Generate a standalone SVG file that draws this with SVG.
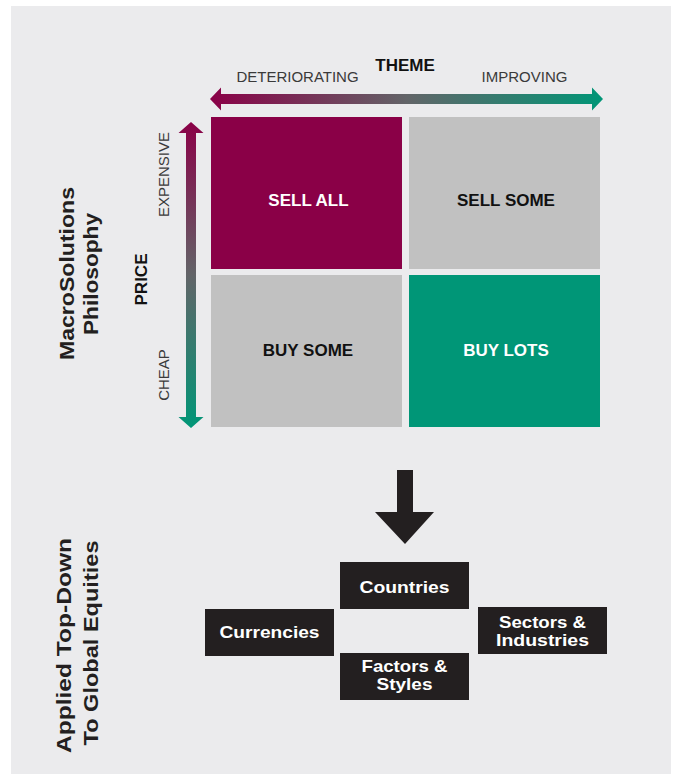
<svg xmlns="http://www.w3.org/2000/svg" width="676" height="774" viewBox="0 0 676 774">
  <defs>
    <linearGradient id="gH" x1="210" y1="0" x2="603" y2="0" gradientUnits="userSpaceOnUse">
      <stop offset="0" stop-color="#8a0047"/>
      <stop offset="0.5" stop-color="#626468"/>
      <stop offset="1" stop-color="#009677"/>
    </linearGradient>
    <linearGradient id="gV" x1="0" y1="122" x2="0" y2="428" gradientUnits="userSpaceOnUse">
      <stop offset="0" stop-color="#8a0047"/>
      <stop offset="0.5" stop-color="#626468"/>
      <stop offset="1" stop-color="#009677"/>
    </linearGradient>
    <style>
      .q { font-family: "Liberation Sans", Arial, sans-serif; font-weight: 700; font-size: 17px; text-anchor: middle; }
      .w { fill: #ffffff; }
      .k { fill: #111111; }
      .ax { font-family: "Liberation Sans", Arial, sans-serif; font-size: 15px; fill: #3a3a3a; text-anchor: middle; }
      .hd { font-family: "Liberation Sans", Arial, sans-serif; font-weight: 700; font-size: 17px; fill: #111111; text-anchor: middle; }
      .side { font-family: "Liberation Sans", Arial, sans-serif; font-weight: 700; font-size: 21px; fill: #231f20; text-anchor: middle; }
      .box { fill: #231f20; }
      .bt { font-family: "Liberation Sans", Arial, sans-serif; font-weight: 700; font-size: 17px; fill: #ffffff; text-anchor: middle; }
    </style>
  </defs>

  <rect x="11" y="6" width="660" height="768" fill="#ebebed"/>

  <!-- titles -->
  <g id="theme-labels">
    <text class="hd" x="405" y="71">THEME</text>
    <text class="ax" x="297.5" y="82">DETERIORATING</text>
    <text class="ax" x="524.5" y="82">IMPROVING</text>
  </g>
  <g id="price-labels">
    <text class="ax" transform="translate(169,174.5) rotate(-90)">EXPENSIVE</text>
    <text class="ax" transform="translate(169,375) rotate(-90)">CHEAP</text>
    <text class="hd" transform="translate(147,279.5) rotate(-90)">PRICE</text>
  </g>
  <g id="side-philosophy">
    <text class="side" transform="translate(74,273.5) rotate(-90)" textLength="173" lengthAdjust="spacingAndGlyphs">MacroSolutions</text>
    <text class="side" transform="translate(98,274) rotate(-90)" textLength="122" lengthAdjust="spacingAndGlyphs">Philosophy</text>
  </g>
  <g id="side-applied">
    <text class="side" transform="translate(71,645.5) rotate(-90)" textLength="215" lengthAdjust="spacingAndGlyphs">Applied Top-Down</text>
    <text class="side" transform="translate(98,643) rotate(-90)" textLength="205" lengthAdjust="spacingAndGlyphs">To Global Equities</text>
  </g>

  <!-- quadrants -->
  <g id="sell-all">
    <rect x="211" y="117" width="191" height="152" fill="#8a0047"/>
    <text class="q w" x="308.5" y="206">SELL ALL</text>
  </g>
  <g id="sell-some">
    <rect x="409" y="117" width="191" height="152" fill="#c1c1c1"/>
    <text class="q k" x="506" y="206">SELL SOME</text>
  </g>
  <g id="buy-some">
    <rect x="211" y="275" width="191" height="152" fill="#c1c1c1"/>
    <text class="q k" x="308" y="356">BUY SOME</text>
  </g>
  <g id="buy-lots">
    <rect x="409" y="275" width="191" height="152" fill="#009677"/>
    <text class="q w" x="506" y="356">BUY LOTS</text>
  </g>

  <!-- boxes -->
  <g id="countries">
    <rect class="box" x="340" y="562" width="129" height="47"/>
    <text class="bt" x="404.5" y="592.5" textLength="90" lengthAdjust="spacingAndGlyphs">Countries</text>
  </g>
  <g id="currencies">
    <rect class="box" x="205" y="609" width="129" height="47"/>
    <text class="bt" x="269.5" y="638" textLength="100" lengthAdjust="spacingAndGlyphs">Currencies</text>
  </g>
  <g id="sectors">
    <rect class="box" x="478" y="607" width="129" height="47"/>
    <text class="bt" x="542.5" y="627.5" textLength="87" lengthAdjust="spacingAndGlyphs">Sectors &amp;</text>
    <text class="bt" x="542.5" y="645.5" textLength="93" lengthAdjust="spacingAndGlyphs">Industries</text>
  </g>
  <g id="factors">
    <rect class="box" x="340" y="653" width="129" height="47"/>
    <text class="bt" x="404.5" y="672" textLength="86" lengthAdjust="spacingAndGlyphs">Factors &amp;</text>
    <text class="bt" x="404.5" y="690" textLength="56" lengthAdjust="spacingAndGlyphs">Styles</text>
  </g>

  <!-- connectors -->
  <g id="connectors">
    <polygon fill="url(#gH)" points="210,99 221,87.5 221,94 592,94 592,87.5 603,99 592,110.5 592,104 221,104 221,110.5"/>
    <polygon fill="url(#gV)" points="191,122 203.5,133 196,133 196,417 203.5,417 191,428 178.5,417 186,417 186,133 178.5,133"/>
    <polygon fill="#231f20" points="397,470 413,470 413,512 434,512 405,544 375,512 397,512"/>
  </g>
</svg>
